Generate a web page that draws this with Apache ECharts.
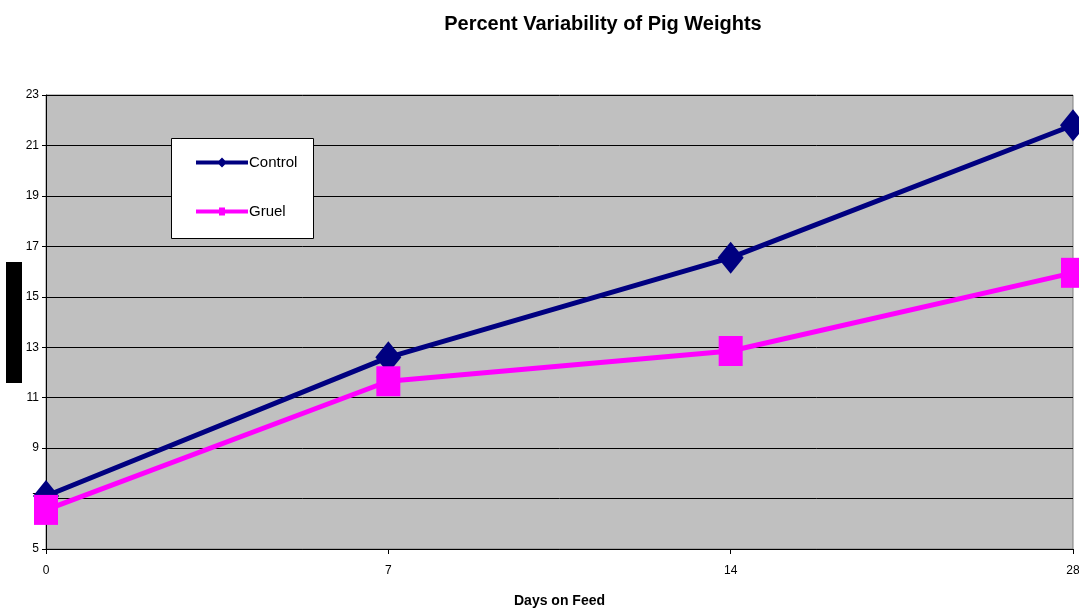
<!DOCTYPE html>
<html>
<head>
<meta charset="utf-8">
<script src="https://cdn.jsdelivr.net/npm/echarts@6/dist/echarts.min.js"></script>
<style>html,body{margin:0;padding:0;background:#fff}#c{width:1079px;height:608px}</style>
</head>
<body>
<div id="c"></div>
<script>
var titleText = 'Percent Variability of Pig Weights';
var xAxisName = 'Days on Feed';
var days = ['0', '7', '14', '28'];
var controlValues = [7.1, 12.6, 16.55, 21.8];
var gruelValues = [6.55, 11.65, 12.85, 15.95];
var yMin = 5, yMax = 23, yStep = 2;

var chart = echarts.init(document.getElementById('c'));
var font = 'Liberation Sans, Arial, sans-serif';
var diamondPath = 'path://M0,-16 L13,0 L0,16 L-13,0 Z';
chart.setOption({
  animation: false,
  backgroundColor: '#ffffff',
  title: {
    text: titleText, left: 598, top: 9, textAlign: 'center',
    textStyle: {fontFamily: font, fontSize: 20, fontWeight: 'bold', color: '#000'}
  },
  graphic: [
    {type: 'rect', shape: {x: 6, y: 262, width: 16, height: 121}, style: {fill: '#000'}, z: 10},
    {type: 'rect', shape: {x: 171.5, y: 138.5, width: 142, height: 100}, style: {fill: '#fff', stroke: '#000', lineWidth: 1}, z: 5}
  ],
  legend: {
    left: 196, top: 155, orient: 'vertical', itemWidth: 52, itemHeight: 14, itemGap: 34,
    padding: 0, z: 6,
    textStyle: {fontFamily: font, fontSize: 15, color: '#000', padding: [0, 0, 0, -4]},
    data: [
      {name: 'Control', icon: 'path://M0,5 L23,5 L26,2 L29,5 L52,5 L52,9 L29,9 L26,12 L23,9 L0,9 Z'},
      {name: 'Gruel', icon: 'path://M0,5 L23,5 L23,3 L29,3 L29,5 L52,5 L52,9 L29,9 L29,11 L23,11 L23,9 L0,9 Z'}
    ]
  },
  grid: {left: 46, right: 6, top: 95, bottom: 59, outerBoundsMode: 'none', containLabel: false,
         show: true, backgroundColor: '#c0c0c0', borderColor: '#808080', borderWidth: 1},
  xAxis: {
    type: 'category', data: days, boundaryGap: false,
    name: xAxisName, nameLocation: 'middle', nameGap: 45,
    nameTextStyle: {fontFamily: font, fontSize: 14, fontWeight: 'bold', color: '#000'},
    axisLine: {lineStyle: {color: '#000', width: 1}},
    axisTick: {show: true, length: 5, lineStyle: {color: '#000'}},
    axisLabel: {fontFamily: font, fontSize: 12, color: '#000', margin: 16},
    splitLine: {show: false}
  },
  yAxis: {
    type: 'value', min: yMin, max: yMax, interval: yStep,
    axisLine: {show: true, lineStyle: {color: '#000', width: 1}},
    axisTick: {show: true, length: 4, lineStyle: {color: '#000'}},
    axisLabel: {fontFamily: font, fontSize: 12, color: '#000', margin: 7},
    splitLine: {show: true, lineStyle: {color: '#000', width: 1}}
  },
  series: [
    {
      name: 'Control', type: 'line', data: controlValues, clip: false,
      symbol: diamondPath, symbolSize: [26, 32],
      lineStyle: {color: '#000080', width: 5},
      itemStyle: {color: '#000080'}, z: 3
    },
    {
      name: 'Gruel', type: 'line', data: gruelValues, clip: false,
      symbol: 'rect', symbolSize: [24, 30],
      lineStyle: {color: '#ff00ff', width: 5},
      itemStyle: {color: '#ff00ff'}, z: 4
    }
  ]
});
</script>
</body>
</html>
